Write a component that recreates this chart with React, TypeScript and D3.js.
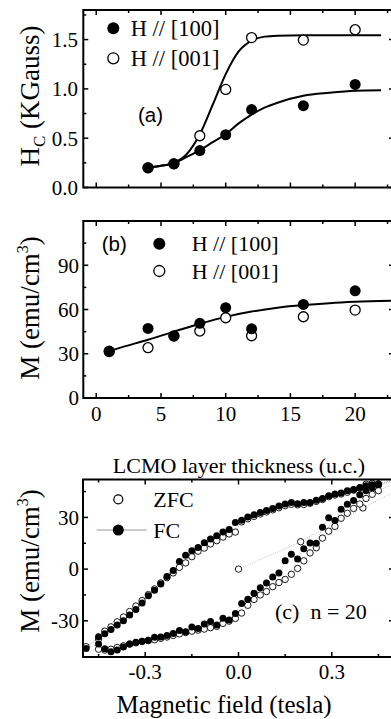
import React from 'react';
import * as d3 from 'd3';

const W = 391;
const H = 719;
const SERIF = '"Liberation Serif", "Times New Roman", serif';
const SANS = '"Liberation Sans", Arial, sans-serif';

// (a) coercive field vs LCMO thickness
const thicknessA = [4, 6, 8, 10, 12, 16, 20];
const hc100 = [0.2, 0.24, 0.375, 0.535, 0.79, 0.83, 1.045];
const hc001 = [0.2, 0.24, 0.525, 0.995, 1.52, 1.495, 1.6];
const fit100X = [4, 5, 6, 7, 8, 9, 10, 11, 12, 13, 14, 16, 18, 20, 22];
const fit100Y = [0.2, 0.22, 0.245, 0.31, 0.38, 0.46, 0.54, 0.65, 0.74, 0.81, 0.86, 0.93, 0.96, 0.98, 0.985];
const fit001X = [4, 5, 6, 7, 8, 9, 10, 11, 12, 13, 14, 16, 22];
const fit001Y = [0.2, 0.22, 0.25, 0.34, 0.54, 0.84, 1.15, 1.38, 1.49, 1.53, 1.54, 1.545, 1.545];

// (b) magnetization vs LCMO thickness
const thicknessB = [1, 4, 6, 8, 10, 12, 16, 20];
const m100 = [31.8, 47.2, 42.2, 50.6, 61.2, 46.9, 63.4, 72.7];
const m001 = [31.5, 34.1, 42.0, 45.4, 54.4, 42.2, 55.1, 59.6];
const fitBX = [1, 2, 4, 6, 8, 10, 12, 14, 16, 18, 20, 23];
const fitBY = [31.8, 34.5, 39.5, 45, 50.3, 55, 58.6, 61.2, 63, 64.3, 65.2, 66];

// (c) hysteresis loops, n = 20
const fieldDown = [
  0.55, 0.45, 0.43, 0.41, 0.39, 0.37, 0.35, 0.33, 0.31, 0.29, 0.27, 0.25, 0.23, 0.21, 0.19, 0.17,
  0.15, 0.13, 0.11, 0.09, 0.07, 0.05, 0.03, 0.01, -0.01, -0.03, -0.05, -0.07, -0.09, -0.11, -0.13,
  -0.15, -0.17, -0.19, -0.21, -0.23, -0.25, -0.27, -0.29, -0.31, -0.33, -0.35, -0.37, -0.39, -0.41,
  -0.43, -0.45, -0.49, -0.55,
];
const fieldUp = [
  -0.45, -0.43, -0.41, -0.39, -0.37, -0.35, -0.33, -0.31, -0.29, -0.27, -0.25, -0.23, -0.21, -0.19,
  -0.17, -0.15, -0.13, -0.11, -0.09, -0.07, -0.05, -0.03, -0.01, 0.01, 0.03, 0.05, 0.07, 0.09, 0.11,
  0.13, 0.15, 0.17, 0.19, 0.21, 0.23, 0.25, 0.27, 0.29, 0.31, 0.33, 0.35, 0.37, 0.39, 0.41, 0.43,
  0.45, 0.55,
];
const fcDown = [
  54, 49.5, 49.0, 48.4, 47.4, 46.2, 45.4, 44.2, 43.6, 42.6, 41.0, 39.9, 38.7, 38.7, 37.9, 38.6,
  37.8, 36.6, 35.2, 34.0, 32.9, 31.6, 30.2, 28.4, 27.1, 23.0, 21.5, 19.4, 17.5, 15.3, 12.6,
  10.7, 8.0, 4.4, -0.8, -4.3, -8.6, -12.3, -15.4, -19.6, -23.5, -26.7, -29.9, -32.4, -35.0,
  -37.5, -39.2, -46, -50,
];
const fcUp = [
  -43.5, -46.2, -48.0, -47.0, -45.2, -43.4, -42.4, -41.8, -41.3, -39.6, -39.4, -38.5, -37.4, -35.6,
  -36.4, -33.6, -34.5, -31.8, -30.4, -32.4, -28.5, -29.6, -25.8, -20.0, -17.5, -14.0, -10.8, -8.0, -4.6,
  -2.2, 4.8, 8.6, 5.8, 11.8, 15.2, 15.0, 24.3, 29.8, 28.2, 34.8, 37.6, 39.8, 43.2, 45.4, 47.2,
  49.0, 54,
];
const zfcDown = [
  53, 49.0, 49.8, 49.3, 47.0, 45.8, 44.6, 43.6, 43.0, 42.0, 40.4, 39.3, 38.2, 37.5, 37.3, 37.6,
  36.8, 35.6, 34.4, 33.2, 32.0, 30.6, 29.2, 27.4, 21.5, 20.4, 18.6, 16.5, 14.6, 12.2, 10.4,
  7.2, 3.6, 1.0, -2.2, -5.0, -8.0, -11.5, -14.8, -18.2, -21.4, -24.6, -27.8, -30.6, -33.5,
  -36.0, -40.5, -45, -49,
];
const zfcUp = [
  -46.5, -47.0, -46.5, -45.5, -44.5, -43.5, -42.8, -42.0, -41.5, -41.0, -40.2, -39.4, -38.5, -37.6,
  -36.8, -36.0, -35.4, -34.8, -34.0, -33.2, -31.5, -30.2, -28.6, -25.5, -21.0, -17.6, -15.0, -13.0, -10.2,
  -7.8, -6.0, -3.0, 0.4, 4.8, 9.4, 12.4, 18.0, 22.0, 24.8, 29.5, 32.4, 35.2, 37.8, 41.0, 43.4,
  45.5, 53,
];
const virginField = [0, 0.2, 0.4, 0.6];
const virginM = [0, 15.9, 35.5, 54];

const xA = d3.scaleLinear().domain([-1, 23]).range([83.3, 394]);
const yA = d3.scaleLinear().domain([0, 1.8]).range([187.5, 10]);
const yB = d3.scaleLinear().domain([0, 120]).range([398, 221]);
const xC = d3.scaleLinear().domain([-0.5, 0.5]).range([83, 394]);
const yC = d3.scaleLinear().domain([-51, 52]).range([657, 479.5]);

type Scale = d3.ScaleLinear<number, number>;

function Frame({ x, y, xMaj, xMin, yMaj, yMin }: { x: Scale; y: Scale; xMaj: number[]; xMin: number[]; yMaj: number[]; yMin: number[] }) {
  const [l, r] = x.range();
  const [b, t] = y.range();
  const ticks: JSX.Element[] = [];
  const add = (vals: number[], len: number, horiz: boolean) =>
    vals.forEach((v, i) => {
      if (horiz) {
        const px = x(v);
        ticks.push(<line key={`b${len}${i}`} x1={px} x2={px} y1={b} y2={b - len} />);
        ticks.push(<line key={`t${len}${i}`} x1={px} x2={px} y1={t} y2={t + len} />);
      } else {
        const py = y(v);
        ticks.push(<line key={`l${len}${i}`} x1={l} x2={l + len} y1={py} y2={py} />);
        ticks.push(<line key={`r${len}${i}`} x1={r} x2={r - len} y1={py} y2={py} />);
      }
    });
  add(xMaj, 5, true);
  add(xMin, 3, true);
  add(yMaj, 5, false);
  add(yMin, 3, false);
  return (
    <g stroke="#000" strokeWidth={1.5}>
      {ticks}
      <rect x={l} y={t} width={r - l} height={b - t} fill="none" strokeWidth={2} />
    </g>
  );
}

export default function App() {
  const fitA100 = d3.line<number>().x((_, i) => xA(fit100X[i])).y((d) => yA(d)).curve(d3.curveMonotoneX)(fit100Y);
  const fitA001 = d3.line<number>().x((_, i) => xA(fit001X[i])).y((d) => yA(d)).curve(d3.curveMonotoneX)(fit001Y);
  const fitB = d3.line<number>().x((_, i) => xA(fitBX[i])).y((d) => yB(d)).curve(d3.curveMonotoneX)(fitBY);

  // points in measuring order: (virgin), decreasing field, increasing field
  const loop = (down: number[], up: number[], pre: number[][] = []) => {
    const pts: [number, number][] = [
      ...pre.map((p) => [p[0], p[1]] as [number, number]),
      ...fieldDown.map((h, i) => [h, down[i]] as [number, number]),
      ...fieldUp.map((h, i) => [h, up[i]] as [number, number]),
    ];
    return pts;
  };
  const zfcPts = loop(zfcDown, zfcUp, virginField.map((h, i) => [h, virginM[i]]));
  const fcPts = loop(fcDown, fcUp);
  const lineC = d3.line<[number, number]>().x((d) => xC(d[0])).y((d) => yC(d[1]));

  const tickLabel = { fontFamily: SERIF, fontSize: 21, fill: '#000' } as const;

  return (
    <svg width={W} height={H} style={{ position: 'absolute', left: 0, top: 0, background: '#fff' }}>
      <defs>
        <clipPath id="clipC">
          <rect x={83} y={479.5} width={311} height={177.5} />
        </clipPath>
      </defs>

      {/* panel (a) */}
      <path d={fitA001 ?? ''} fill="none" stroke="#000" strokeWidth={2} />
      <path d={fitA100 ?? ''} fill="none" stroke="#000" strokeWidth={2} />
      {thicknessA.map((t, i) => (
        <circle key={`ao${i}`} cx={xA(t)} cy={yA(hc001[i])} r={5} fill="#fff" stroke="#000" strokeWidth={1.3} />
      ))}
      {thicknessA.map((t, i) => (
        <circle key={`af${i}`} cx={xA(t)} cy={yA(hc100[i])} r={5.5} fill="#000" />
      ))}
      <Frame x={xA} y={yA} xMaj={[0, 5, 10, 15, 20]} xMin={[2.5, 7.5, 12.5, 17.5, 22.5]} yMaj={[0, 0.5, 1, 1.5]} yMin={[0.25, 0.75, 1.25, 1.75]} />
      {[0, 0.5, 1, 1.5].map((v) => (
        <text key={`ya${v}`} x={78} y={yA(v)} dy="0.35em" textAnchor="end" {...tickLabel}>{v.toFixed(1)}</text>
      ))}
      <text transform="translate(39,96) rotate(-90)" textAnchor="middle" fontFamily={SERIF} fontSize={27}>
        H<tspan fontSize={17} dy={6}>C</tspan><tspan dy={-6}> (KGauss)</tspan>
      </text>
      <circle cx={113.3} cy={28.3} r={6} fill="#000" />
      <circle cx={113.3} cy={58.3} r={5.5} fill="#fff" stroke="#000" strokeWidth={1.3} />
      <text x={130.7} y={35.5} fontFamily={SERIF} fontSize={22.5}>H // [100]</text>
      <text x={130.7} y={65.5} fontFamily={SERIF} fontSize={22.5}>H // [001]</text>
      <text x={138} y={122} fontFamily={SANS} fontSize={20.5}>(a)</text>

      {/* panel (b) */}
      <path d={fitB ?? ''} fill="none" stroke="#000" strokeWidth={2} />
      {thicknessB.map((t, i) => (
        <circle key={`bo${i}`} cx={xA(t)} cy={yB(m001[i])} r={5} fill="#fff" stroke="#000" strokeWidth={1.3} />
      ))}
      {thicknessB.map((t, i) => (
        <circle key={`bf${i}`} cx={xA(t)} cy={yB(m100[i])} r={5.5} fill="#000" />
      ))}
      <Frame x={xA} y={yB} xMaj={[0, 5, 10, 15, 20]} xMin={[2.5, 7.5, 12.5, 17.5, 22.5]} yMaj={[0, 30, 60, 90]} yMin={[15, 45, 75, 105]} />
      {[0, 30, 60, 90].map((v) => (
        <text key={`yb${v}`} x={79} y={yB(v)} dy="0.35em" textAnchor="end" {...tickLabel}>{v}</text>
      ))}
      {[0, 5, 10, 15, 20].map((v) => (
        <text key={`xb${v}`} x={xA(v)} y={421} textAnchor="middle" {...tickLabel}>{v}</text>
      ))}
      <text transform="translate(39,308) rotate(-90)" textAnchor="middle" fontFamily={SERIF} fontSize={27}>
        M (emu/cm<tspan fontSize={16} dy={-11}>3</tspan><tspan dy={11}>)</tspan>
      </text>
      <text x={101.7} y={251} fontFamily={SANS} fontSize={20.5}>(b)</text>
      <circle cx={159.3} cy={243.7} r={6} fill="#000" />
      <circle cx={159.3} cy={271} r={5.5} fill="#fff" stroke="#000" strokeWidth={1.3} />
      <text x={191.7} y={251} fontFamily={SERIF} fontSize={22}>H // [100]</text>
      <text x={191.7} y={278.5} fontFamily={SERIF} fontSize={22}>H // [001]</text>
      <text x={239} y={473} textAnchor="middle" fontFamily={SERIF} fontSize={22}>LCMO layer thickness (u.c.)</text>

      {/* panel (c) */}
      <g clipPath="url(#clipC)">
        <path d={lineC(zfcPts) ?? ''} fill="none" stroke="#999" strokeWidth={0.7} strokeDasharray="1,1.5" />
        <path d={lineC(fcPts) ?? ''} fill="none" stroke="#999" strokeWidth={0.7} strokeDasharray="1,1.5" />
        {zfcPts.map((p, i) => (
          <circle key={`zc${i}`} cx={xC(p[0])} cy={yC(p[1])} r={3.2} fill="#fff" stroke="#000" strokeWidth={0.9} />
        ))}
        {fcPts.map((p, i) => (
          <circle key={`fc${i}`} cx={xC(p[0])} cy={yC(p[1])} r={3.5} fill="#000" />
        ))}
      </g>
      <Frame x={xC} y={yC} xMaj={[-0.3, 0, 0.3]} xMin={[-0.45, -0.15, 0.15, 0.45]} yMaj={[-30, 0, 30]} yMin={[-45, -15, 15, 45]} />
      {[-30, 0, 30].map((v) => (
        <text key={`yc${v}`} x={79} y={yC(v)} dy="0.35em" textAnchor="end" {...tickLabel}>{v}</text>
      ))}
      {[-0.3, 0, 0.3].map((v) => (
        <text key={`xc${v}`} x={xC(v)} y={679} textAnchor="middle" {...tickLabel}>{v.toFixed(1)}</text>
      ))}
      <text transform="translate(39,561) rotate(-90)" textAnchor="middle" fontFamily={SERIF} fontSize={27}>
        M (emu/cm<tspan fontSize={16} dy={-11}>3</tspan><tspan dy={11}>)</tspan>
      </text>
      <circle cx={118.3} cy={499.3} r={4.5} fill="#fff" stroke="#000" strokeWidth={1.2} />
      <text x={153.3} y={507} fontFamily={SERIF} fontSize={22}>ZFC</text>
      <line x1={96.7} x2={146.7} y1={530} y2={530} stroke="#999" strokeWidth={1} />
      <circle cx={118.3} cy={530} r={5.5} fill="#000" />
      <text x={153.3} y={538} fontFamily={SERIF} fontSize={22}>FC</text>
      <text x={275} y={619} fontFamily={SERIF} fontSize={22} style={{ whiteSpace: 'pre' }}>(c)  n = 20</text>
      <text x={224} y={713} textAnchor="middle" fontFamily={SERIF} fontSize={25}>Magnetic field (tesla)</text>
    </svg>
  );
}
